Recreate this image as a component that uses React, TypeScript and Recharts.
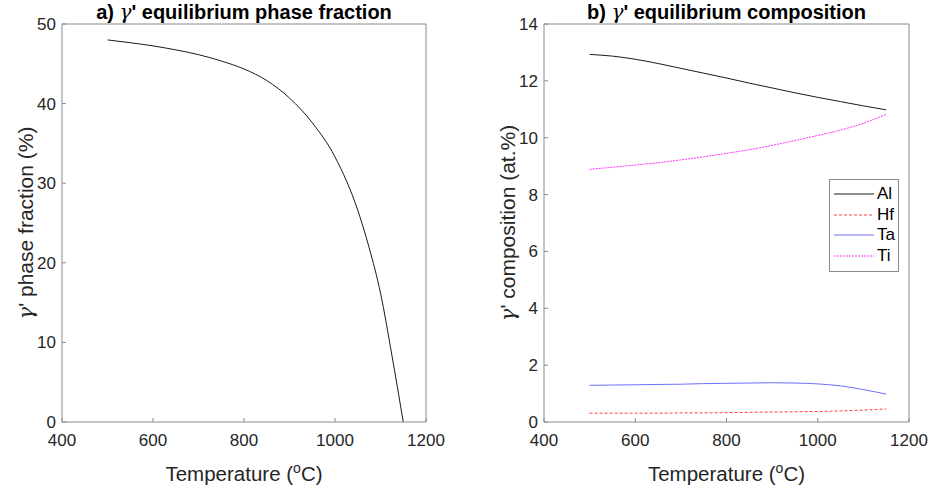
import { Legend, Line, LineChart, XAxis, YAxis } from "recharts";

// a) phase fraction
const tempA = [500, 550, 600, 650, 700, 750, 800, 850, 900, 950, 1000, 1050, 1075, 1100, 1125, 1150];
const phaseFraction = [48.0, 47.65, 47.25, 46.75, 46.15, 45.35, 44.35, 42.9, 40.7, 37.6, 33.3, 26.6, 21.9, 16.2, 8.4, 0];

// b) composition (at.%)
const tempB = [500, 550, 600, 650, 700, 750, 800, 850, 900, 950, 1000, 1050, 1100, 1150];
const alValues = [12.93, 12.87, 12.76, 12.61, 12.44, 12.27, 12.1, 11.92, 11.75, 11.58, 11.42, 11.27, 11.12, 10.98];
const hfValues = [0.31, 0.31, 0.31, 0.31, 0.32, 0.32, 0.33, 0.34, 0.35, 0.36, 0.37, 0.39, 0.42, 0.46];
const taValues = [1.29, 1.3, 1.31, 1.32, 1.33, 1.35, 1.36, 1.37, 1.38, 1.37, 1.34, 1.27, 1.14, 0.98];
const tiValues = [8.89, 8.96, 9.04, 9.12, 9.22, 9.33, 9.45, 9.58, 9.73, 9.9, 10.08, 10.27, 10.51, 10.82];

const xTicks = [400, 600, 800, 1000, 1200];
const yTicksA = [0, 10, 20, 30, 40, 50];
const yTicksB = [0, 2, 4, 6, 8, 10, 12, 14];

const dataA = tempA.map((T, i) => ({ T, phase: phaseFraction[i] }));
const dataB = tempB.map((T, i) => ({ T, Al: alValues[i], Hf: hfValues[i], Ta: taValues[i], Ti: tiValues[i] }));

const seriesB = [
  { key: "Al", color: "#1a1a1a", dash: undefined as string | undefined },
  { key: "Hf", color: "#ff4040", dash: "3 2" },
  { key: "Ta", color: "#7070ff", dash: undefined },
  { key: "Ti", color: "#ff30ff", dash: "2 1" },
];

const FONT = "'Liberation Sans', Arial, Helvetica, sans-serif";
const AXIS = "#8a8a8a";
const TEXT = "#262626";

const tickStyle = { fontSize: 17, fill: TEXT, fontFamily: FONT };

function Gamma() {
  return (
    <tspan fontStyle="italic" fontFamily="'DejaVu Serif', 'Liberation Serif', serif" fontWeight="normal">
      γ
    </tspan>
  );
}

function titleLabel(text: string) {
  return (props: any) => {
    const vb = props.viewBox || {};
    return (
      <text x={vb.x + vb.width / 2} y={vb.y - 4.5} textAnchor="middle" fontFamily={FONT} fontWeight="bold" fontSize={20} fill="#000">
        {text.slice(0, 3)}
        <Gamma />
        {text.slice(3)}
      </text>
    );
  };
}

function tempLabel(props: any) {
  const vb = props.viewBox || {};
  return (
    <text x={vb.x + vb.width / 2} y={vb.y + 59} textAnchor="middle" fontFamily={FONT} fontSize={20.5} fill={TEXT}>
      Temperature (
      <tspan dy={-8} fontSize={14}>
        o
      </tspan>
      <tspan dy={8}>C)</tspan>
    </text>
  );
}

function yLabel(text: string, dx: number) {
  return (props: any) => {
    const vb = props.viewBox || {};
    const x = vb.x - dx;
    const y = vb.y + vb.height / 2;
    return (
      <text x={x} y={y} transform={`rotate(-90, ${x}, ${y})`} textAnchor="middle" fontFamily={FONT} fontSize={21} fill={TEXT}>
        <Gamma />
        {text}
      </text>
    );
  };
}

function LegendBox() {
  return (
    <div style={{ width: 68, height: 87, border: `1px solid ${AXIS}`, background: "#fff", paddingTop: 4, boxSizing: "content-box" }}>
      {seriesB.map((s) => (
        <div key={s.key} style={{ display: "flex", alignItems: "center", height: 20.6 }}>
          <svg width={46} height={10}>
            <line x1={4} x2={44} y1={5} y2={5} stroke={s.color} strokeWidth={1} strokeDasharray={s.dash} />
          </svg>
          <span style={{ fontFamily: FONT, fontSize: 17, color: "#000", marginLeft: 1 }}>{s.key}</span>
        </div>
      ))}
    </div>
  );
}

export default function App() {
  return (
    <div style={{ position: "absolute", left: 0, top: 0, width: 933, height: 491, background: "#fff" }}>
      <div style={{ position: "absolute", left: 0, top: 0 }}>
        <LineChart width={466} height={491} data={dataA} margin={{ top: 23, right: 39, bottom: 68, left: 61 }}>
          <XAxis dataKey="T" type="number" domain={[400, 1200]} ticks={xTicks} height={1} tickSize={-4} tickMargin={15.5}
            tick={tickStyle} stroke={AXIS} label={tempLabel} />
          <XAxis xAxisId="top" orientation="top" dataKey="T" type="number" domain={[400, 1200]} ticks={xTicks} height={1}
            tickSize={-4} tick={false} stroke={AXIS} label={titleLabel("a) ' equilibrium phase fraction")} />
          <YAxis type="number" domain={[0, 50]} ticks={yTicksA} width={1} tickSize={-4} tickMargin={10} tick={tickStyle}
            stroke={AXIS} label={yLabel("' phase fraction (%)", 28)} />
          <YAxis yAxisId="right" orientation="right" type="number" domain={[0, 50]} ticks={yTicksA} width={1} tickSize={-4}
            tick={false} stroke={AXIS} />
          <Line type="monotone" dataKey="phase" stroke="#1a1a1a" strokeWidth={1} dot={false} isAnimationActive={false} />
        </LineChart>
      </div>
      <div style={{ position: "absolute", left: 466, top: 0 }}>
        <LineChart width={467} height={491} data={dataB} margin={{ top: 23, right: 23, bottom: 68, left: 77 }}>
          <XAxis dataKey="T" type="number" domain={[400, 1200]} ticks={xTicks} height={1} tickSize={-4} tickMargin={15.5}
            tick={tickStyle} stroke={AXIS} label={tempLabel} />
          <XAxis xAxisId="top" orientation="top" dataKey="T" type="number" domain={[400, 1200]} ticks={xTicks} height={1}
            tickSize={-4} tick={false} stroke={AXIS} label={titleLabel("b) ' equilibrium composition")} />
          <YAxis type="number" domain={[0, 14]} ticks={yTicksB} width={1} tickSize={-4} tickMargin={10} tick={tickStyle}
            stroke={AXIS} label={yLabel("' composition (at.%)", 28)} />
          <YAxis yAxisId="right" orientation="right" type="number" domain={[0, 14]} ticks={yTicksB} width={1} tickSize={-4}
            tick={false} stroke={AXIS} />
          {seriesB.map((s) => (
            <Line key={s.key} type="monotone" dataKey={s.key} name={s.key} stroke={s.color} strokeWidth={1}
              strokeDasharray={s.dash} dot={false} isAnimationActive={false} />
          ))}
          <Legend layout="vertical" align="center" verticalAlign="middle" content={<LegendBox />}
            wrapperStyle={{ left: 829 - 466, top: 179, width: 70 }} />
        </LineChart>
      </div>
    </div>
  );
}
